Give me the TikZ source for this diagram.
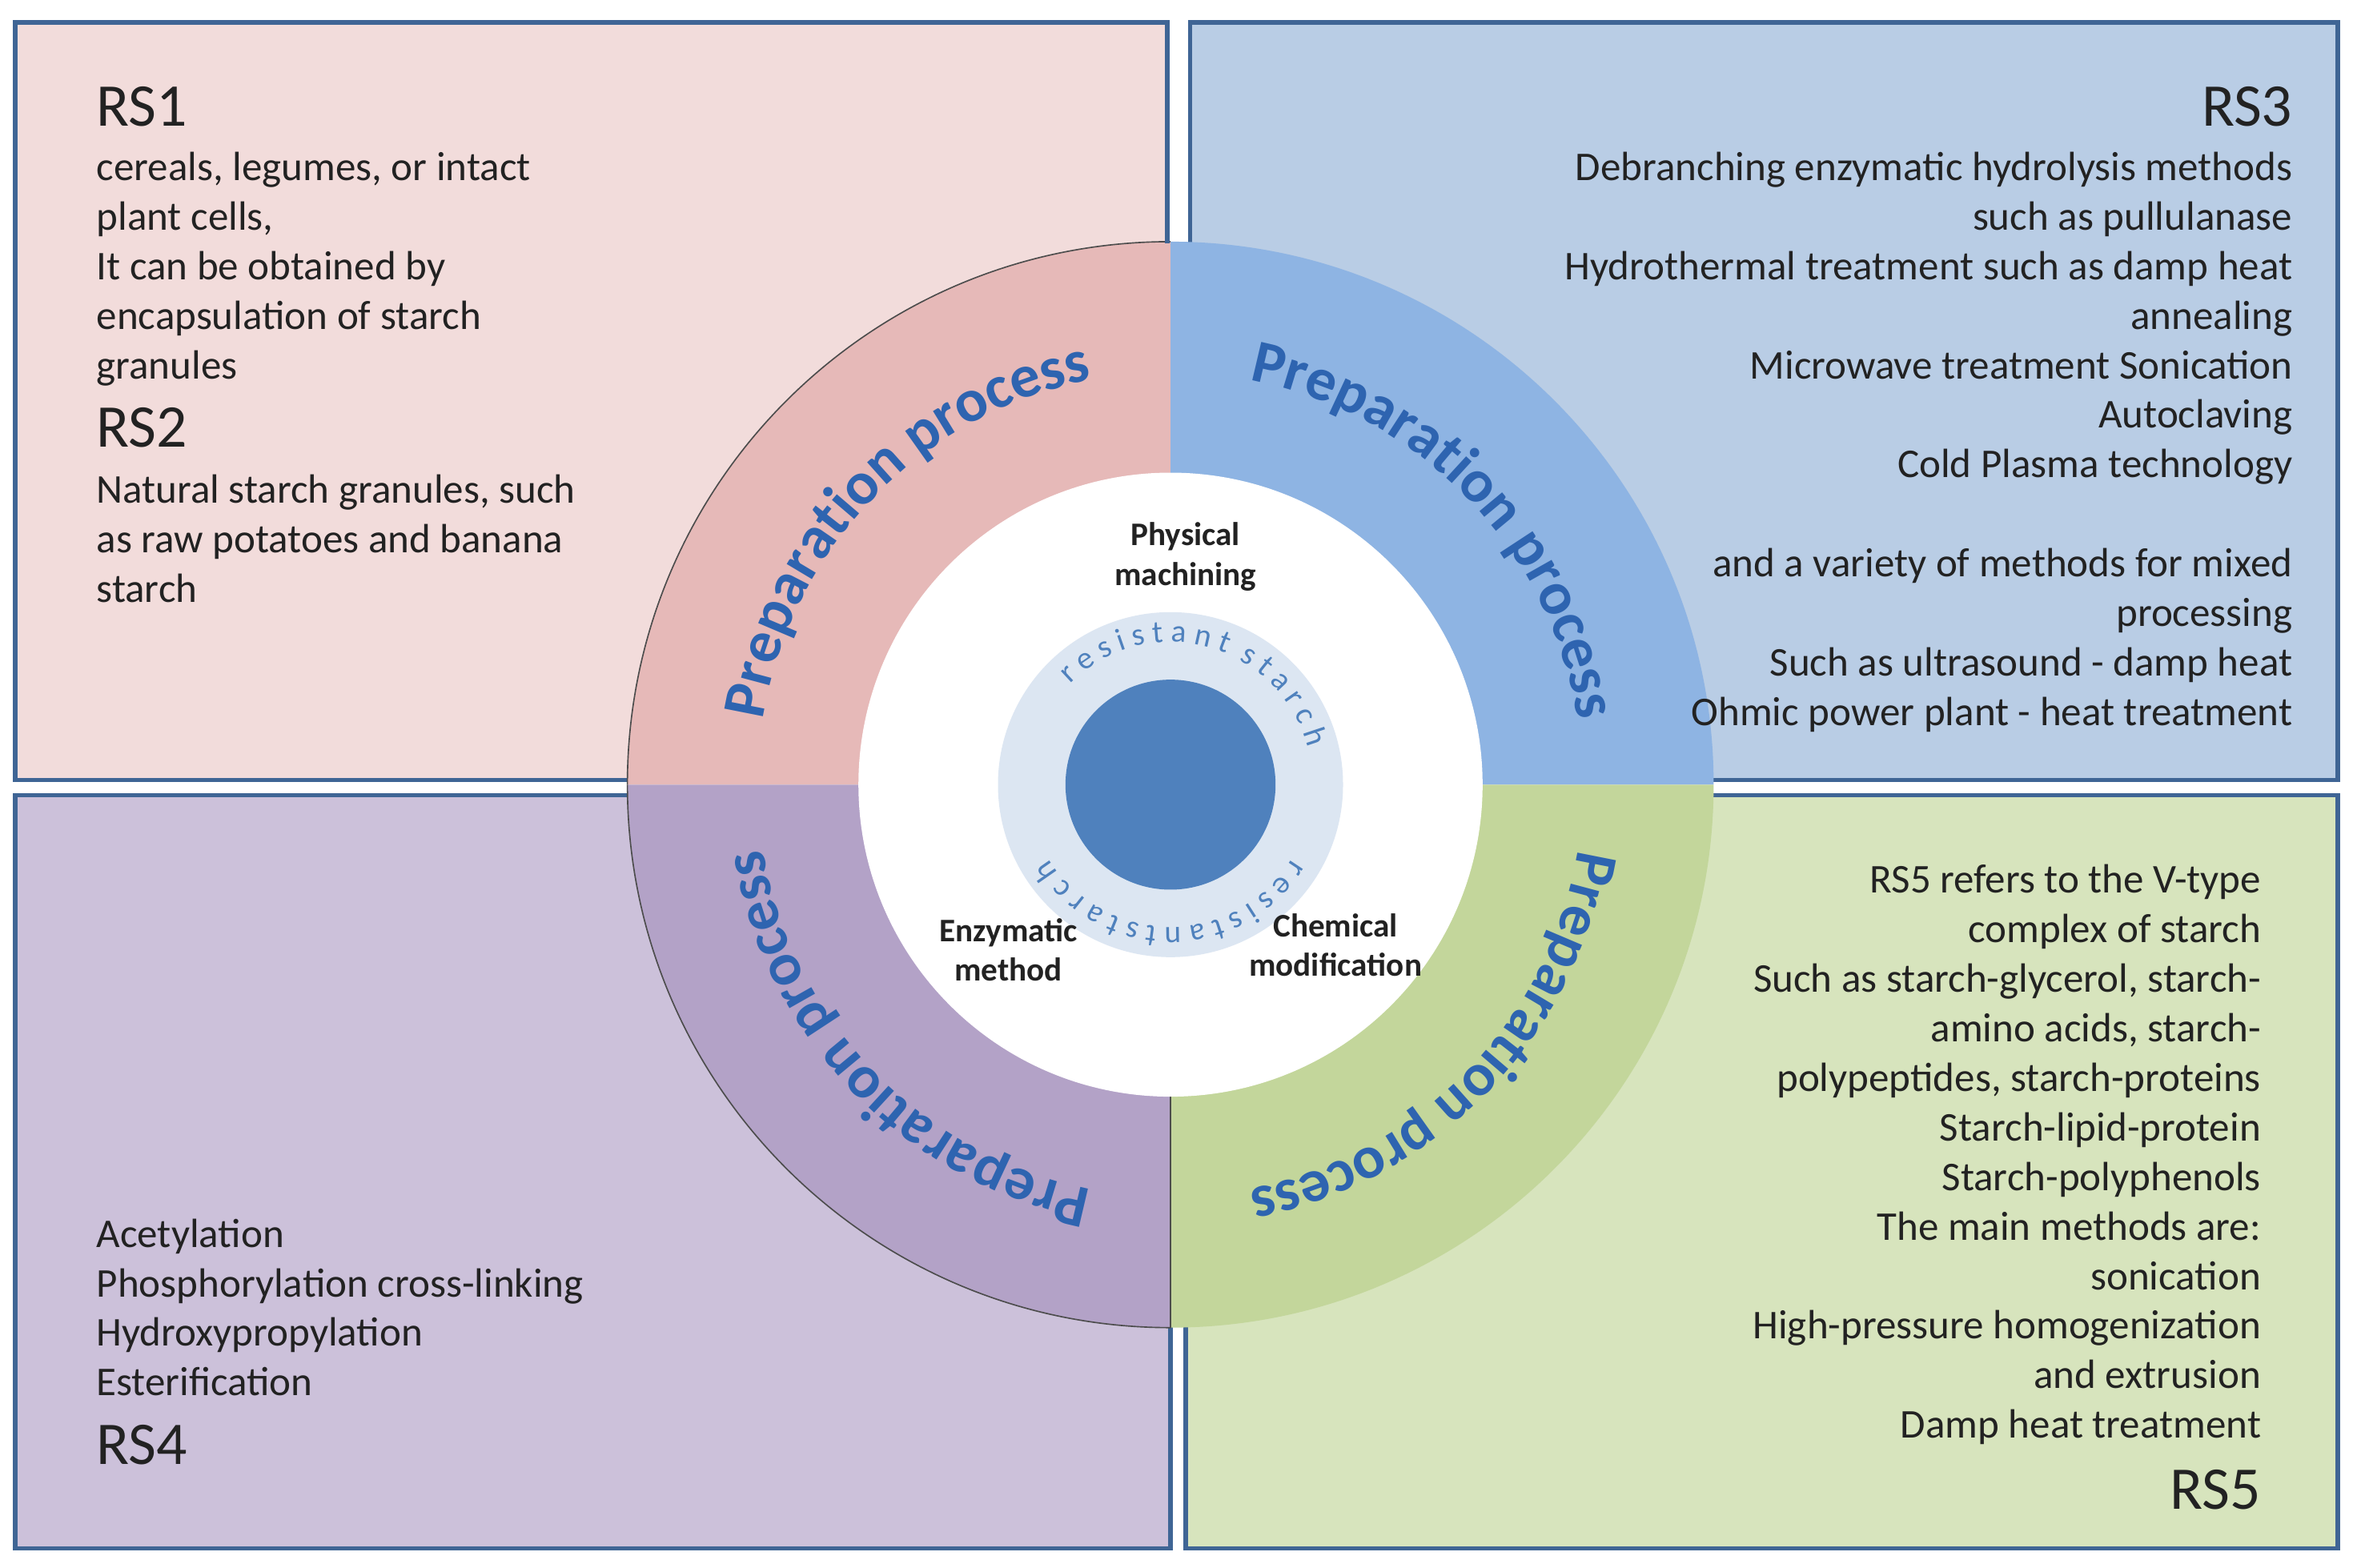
\documentclass[tikz,border=0pt]{standalone}
\usepackage{fontspec}
\setmainfont{Carlito}
\usetikzlibrary{decorations.text}
\definecolor{bord}{HTML}{3F6595}
\definecolor{pinkbox}{HTML}{F2DCDB}\definecolor{pinksec}{HTML}{E6B9B8}
\definecolor{bluebox}{HTML}{B9CDE5}\definecolor{bluesec}{HTML}{8EB4E3}
\definecolor{purbox}{HTML}{CCC1DA}\definecolor{pursec}{HTML}{B3A2C7}
\definecolor{grnbox}{HTML}{D7E4BD}\definecolor{grnsec}{HTML}{C3D69B}
\definecolor{disk}{HTML}{4F81BD}\definecolor{ring}{HTML}{DCE6F2}
\definecolor{ptext}{HTML}{2E64B0}\definecolor{txt}{HTML}{222222}
\begin{document}
\begin{tikzpicture}[x=0.02cm,y=-0.02cm,
 box/.style={draw=bord,line width=1.7pt},
 sec/.style={draw=black!70,line width=0.5pt},
 body/.style={font=\fontsize{15.5}{18.8}\selectfont,text=txt,inner sep=0pt},
 rs/.style={font=\fontsize{23}{23}\selectfont,text=txt,inner sep=0pt},
 lab/.style={font=\fontsize{12.5}{15}\selectfont\bfseries,align=center,text=txt},
 prep/.style={decorate,decoration={text along path,text align=center,text color=ptext,
   text={|\fontsize{23}{23}\selectfont\bfseries|Preparation process}}},
 ringt/.style={decorate,decoration={text along path,text align=center,text color=disk}}]
\useasboundingbox (0,0) rectangle (1568,1045);
\fill[white] (0,0) rectangle (1568,1045);
\draw[box,fill=pinkbox] (10,15) rectangle (778,520);
\draw[box,fill=bluebox] (793,15) rectangle (1558,520);
\draw[box,fill=purbox] (10,530) rectangle (780,1032);
\draw[box,fill=grnbox] (790,530) rectangle (1558,1032);
\coordinate (C) at (780,523);
\begin{scope}[shift={(C)},x=1cm,y=1cm]
\fill[pinksec] (0,0) -- (180:7.24cm) arc (180:90:7.24cm) -- cycle;
\fill[bluesec] (0,0) -- (90:7.24cm) arc (90:0:7.24cm) -- cycle;
\fill[pursec] (0,0) -- (270:7.24cm) arc (270:180:7.24cm) -- cycle;
\fill[grnsec] (0,0) -- (0:7.24cm) arc (0:-90:7.24cm) -- cycle;
\draw[sec] (180:7.24cm) arc (180:90:7.24cm);
\draw[sec] (270:7.24cm) arc (270:180:7.24cm);
\draw[sec] (-90:7.24cm) -- (0,-4.16cm);
\fill[white] (0,0) circle (4.16cm);
\fill[ring] (0,0) circle (2.3cm);
\fill[disk] (0,0) circle (1.4cm);
\path[prep] (176:5.5cm) arc (176:96:5.5cm);
\path[prep] (84:5.5cm) arc (84:4:5.5cm);
\path[prep] (-4:5.5cm) arc (-4:-84:5.5cm);
\path[prep] (-96:5.5cm) arc (-96:-176:5.5cm);
\path[ringt,decoration={text={|\fontsize{12}{12}\selectfont|r e s i s t a n t\ \ s t a r c h}}] (165:1.9cm) arc (165:-15:1.9cm);
\path[ringt,decoration={text={|\fontsize{12}{12}\selectfont|r e s i s t a n t s t a r c h}}] (-10:1.9cm) arc (-10:-170:1.9cm);
\end{scope}
\draw[box] (778,15) -- (778,162);
\node[lab] (pm) at (790,371) {Physical\\machining};
\node[lab] (em) at (672,633) {Enzymatic\\method};
\node[lab] (cm) at (890,630) {Chemical\\modification};
\node[rs,anchor=base west] (rs1) at (64,84) {RS1};
\node[body,anchor=north west,align=left] (t1) at (64,101) {cereals, legumes, or intact\\plant cells,\\It can be obtained by\\encapsulation of starch\\granules};
\node[rs,anchor=base west] (rs2) at (64,298) {RS2};
\node[body,anchor=north west,align=left] (t2) at (64,316) {Natural starch granules, such\\as raw potatoes and banana\\starch};
\node[rs,anchor=base east] (rs3) at (1528,84) {RS3};
\node[body,anchor=north east,align=right] (t3) at (1528,101) {Debranching enzymatic hydrolysis methods\\such as pullulanase\\Hydrothermal treatment such as damp heat\\annealing\\Microwave treatment Sonication\\Autoclaving\\Cold Plasma technology\\\strut\\and a variety of methods for mixed\\processing\\Such as ultrasound - damp heat\\Ohmic power plant - heat treatment};
\node[body,anchor=north west,align=left] (t4) at (64,812) {Acetylation\\Phosphorylation cross-linking\\Hydroxypropylation\\Esterification};
\node[rs,anchor=base west] (rs4) at (64,976) {RS4};
\node[body,anchor=north east,align=right] (t5) at (1507,576) {RS5 refers to the V-type\\complex of starch\\Such as starch-glycerol, starch-\\amino acids, starch-\\polypeptides, starch-proteins\\Starch-lipid-protein\\Starch-polyphenols\\The main methods are:\\sonication\\High-pressure homogenization\\and extrusion\\Damp heat treatment};
\node[rs,anchor=base east] (rs5) at (1507,1006) {RS5};
\end{tikzpicture}
\end{document}
